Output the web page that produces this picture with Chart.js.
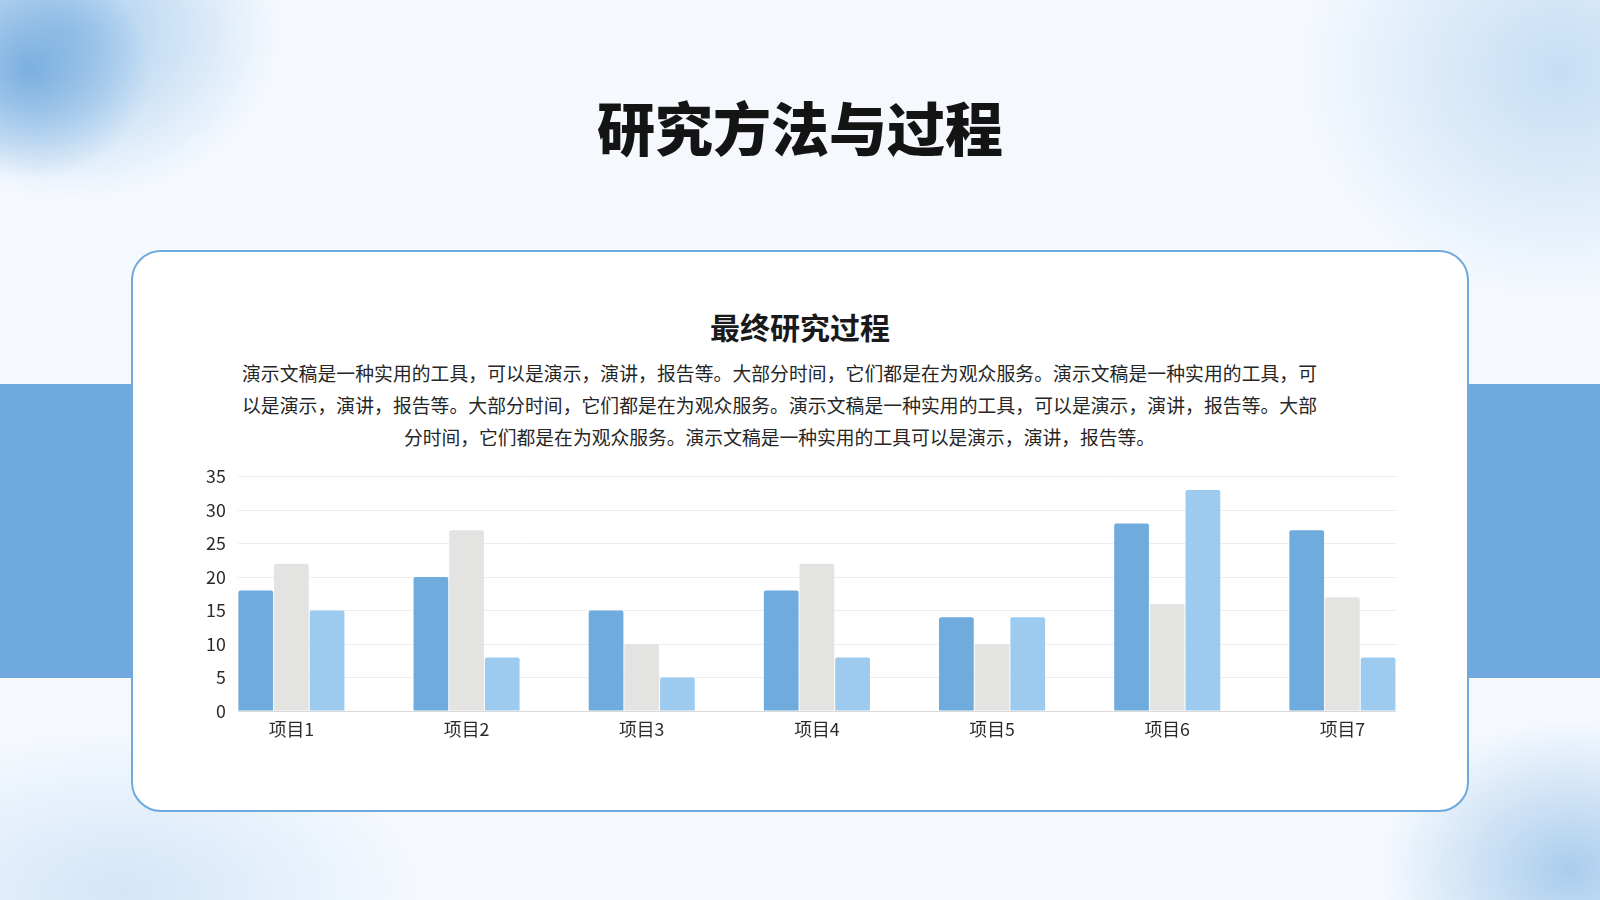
<!DOCTYPE html>
<html lang="zh">
<head>
<meta charset="utf-8">
<script src="https://cdn.jsdelivr.net/npm/chart.js@4.4.1/dist/chart.umd.min.js"></script>
<style>
  html, body { margin: 0; padding: 0; }
  body {
    width: 1600px; height: 900px; position: relative; overflow: hidden;
    font-family: "Noto Sans CJK SC", "Noto Sans", sans-serif;
    background:
      radial-gradient(ellipse 120px 110px at 30px 70px, rgba(111,168,220,0.85), rgba(111,168,220,0) 100%),
      radial-gradient(ellipse 210px 170px at 70px 30px, rgba(140,188,232,0.75), rgba(140,188,232,0) 100%),
      radial-gradient(ellipse 260px 230px at 1560px 70px, rgba(150,195,235,0.5), rgba(150,195,235,0) 100%),
      radial-gradient(ellipse 190px 150px at 1570px 870px, rgba(120,175,225,0.6), rgba(120,175,225,0) 100%),
      radial-gradient(ellipse 300px 160px at 120px 890px, rgba(160,200,238,0.4), rgba(160,200,238,0) 100%),
      #f5f9fe;
  }
  .band { position: absolute; left: 0; top: 384px; width: 1600px; height: 294px; background: #6fa8dc; }
  .title {
    position: absolute; left: 0; width: 1600px; top: 88px; text-align: center;
    font-size: 58px; font-weight: 900; color: #141414; line-height: 76px;
  }
  .card {
    position: absolute; left: 131px; top: 250px; width: 1334px; height: 558px;
    background: #ffffff; border: 2px solid #6fa8dc; border-radius: 30px;
  }
  .subtitle {
    position: absolute; left: 0; width: 1600px; top: 305px; text-align: center;
    font-size: 30px; font-weight: 700; color: #1a1a1a; line-height: 42px;
  }
  .para { position: absolute; left: 242px; width: 1075px; top: 357px; color: #262626; font-size: 18.8px; }
  .para div { line-height: 32px; height: 32px; white-space: nowrap; }
  .para .j { text-align: justify; text-align-last: justify; }
  .para .c { text-align: center; }
  .chart-box { position: absolute; left: 180px; top: 454px; width: 1216px; height: 297px; }
</style>
</head>
<body>
<div class="band"></div>
<div class="title">研究方法与过程</div>
<div class="card"></div>
<div class="subtitle">最终研究过程</div>
<div class="para">
  <div class="j">演示文稿是一种实用的工具，可以是演示，演讲，报告等。大部分时间，它们都是在为观众服务。演示文稿是一种实用的工具，可</div>
  <div class="j">以是演示，演讲，报告等。大部分时间，它们都是在为观众服务。演示文稿是一种实用的工具，可以是演示，演讲，报告等。大部</div>
  <div class="c">分时间，它们都是在为观众服务。演示文稿是一种实用的工具可以是演示，演讲，报告等。</div>
</div>
<div class="chart-box"><canvas id="barChart"></canvas></div>
<script>
const categories = ["项目1", "项目2", "项目3", "项目4", "项目5", "项目6", "项目7"];
const series1 = [18, 20, 15, 18, 14, 28, 27];
const series2 = [22, 27, 10, 22, 10, 16, 17];
const series3 = [15, 8, 5, 8, 14, 33, 8];
const yMax = 35;
const yStep = 5;

const toPoints = (arr) => arr.map((v, i) => ({ x: i, y: v }));
const tickFont = { family: "'Noto Sans CJK SC', 'Noto Sans', sans-serif", size: 17.8 };

const ctx = document.getElementById("barChart").getContext("2d");

const barChart = new Chart(ctx, {
  type: "bar",
  data: {
    datasets: [
      { label: "系列1", data: toPoints(series1), backgroundColor: "#6fabdd" },
      { label: "系列2", data: toPoints(series2), backgroundColor: "#e3e3e2" },
      { label: "系列3", data: toPoints(series3), backgroundColor: "#9dcbef" },
    ],
  },
  options: {
    responsive: true,
    maintainAspectRatio: false,
    animation: false,
    layout: { padding: 0 },
    datasets: {
      bar: { categoryPercentage: 0.611, barPercentage: 0.973, borderRadius: 2, borderSkipped: "bottom" },
    },
    plugins: { legend: { display: false }, tooltip: { enabled: false } },
    scales: {
      x: {
        type: "linear",
        offset: false,
        min: -0.306,
        max: categories.length - 1 + 0.306,
        afterBuildTicks: (scale) => {
          scale.ticks = categories.map((c, i) => ({ value: i }));
        },
        afterFit: (scale) => { scale.height = 40; },
        grid: { display: false, drawTicks: false, offset: false },
        border: { display: false },
        ticks: {
          padding: 8,
          color: "#2b2b2b",
          font: tickFont,
          maxRotation: 0,
          autoSkip: false,
          callback: (value) => categories[value],
        },
      },
      y: {
        min: 0,
        max: yMax,
        afterFit: (scale) => { scale.width = 57.8; },
        grid: {
          drawTicks: false,
          color: (c) => (c.tick && c.tick.value === 0 ? "#d9d9d9" : "#ededed"),
          lineWidth: 1,
        },
        border: { display: false },
        ticks: { stepSize: yStep, padding: 12, color: "#2b2b2b", font: tickFont },
      },
    },
  },
});
</script>
</body>
</html>
